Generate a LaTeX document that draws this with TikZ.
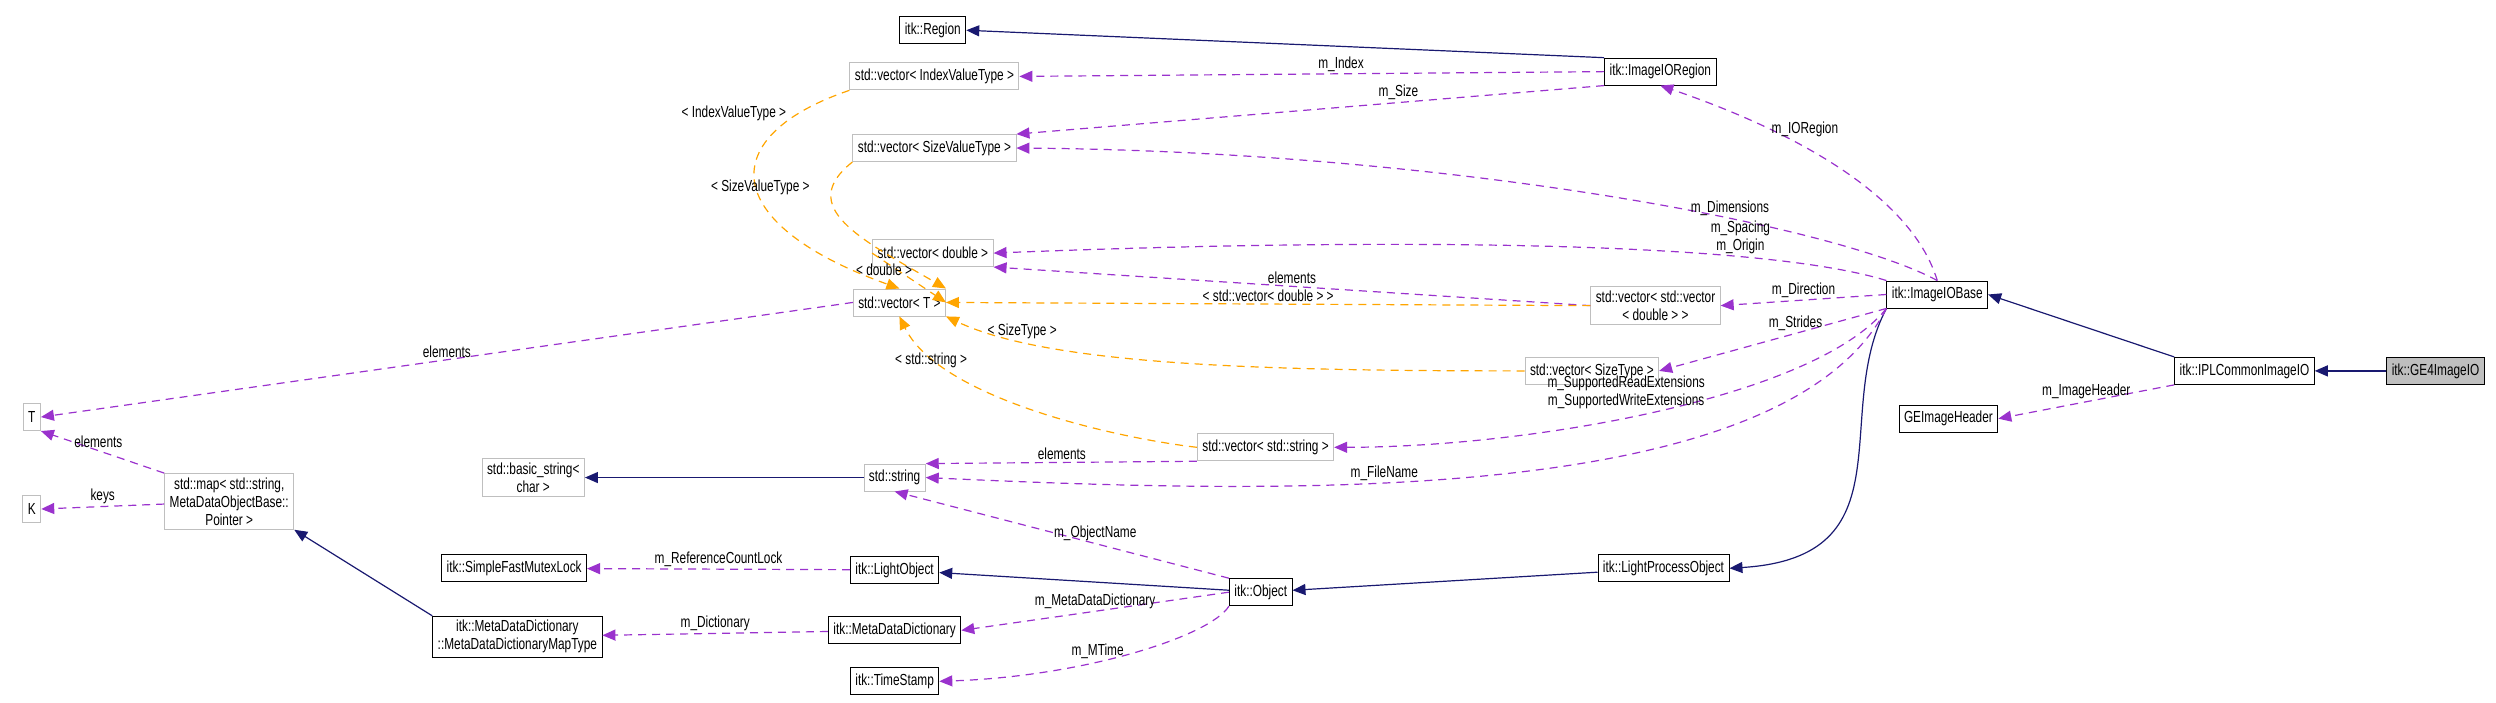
\documentclass[tikz,border=0pt]{standalone}
\usepackage{fontspec}
\setmainfont{Liberation Sans}[FakeStretch=0.74]
\usetikzlibrary{arrows.meta}
\definecolor{inhcol}{HTML}{191970}
\definecolor{usecol}{HTML}{9A32CD}
\definecolor{tplcol}{HTML}{FFA500}
\definecolor{extcol}{HTML}{BFBFBF}
\tikzset{
  box/.style={draw, line width=0.9pt, inner xsep=5pt, inner ysep=4pt, minimum height=27pt, align=center, font=\fontsize{16}{18}\selectfont, fill=white},
  cls/.style={box, draw=black},
  ext/.style={box, draw=extcol},
  lbl/.style={font=\fontsize{16}{18}\selectfont, inner sep=2pt, align=center},
  inh/.style={draw=inhcol, line width=1.2pt, -{Triangle[length=13pt,width=11pt]}},
  use/.style={draw=usecol, line width=1.2pt, dash pattern=on 8pt off 6pt, -{Triangle[length=13pt,width=11pt]}},
  tpl/.style={draw=tplcol, line width=1.2pt, dash pattern=on 8pt off 6pt, -{Triangle[length=13pt,width=11pt]}},
}
\begin{document}
\begin{tikzpicture}[x=1.592pt,y=-1.592pt]
\useasboundingbox (0,0) rectangle (1568,441.6);

% classes
\node[cls] (region) at (586,19) {itk::Region};
\node[cls] (ioregion) at (1043,45) {itk::ImageIORegion};
\node[ext] (vindex) at (587,48) {std::vector< IndexValueType >};
\node[ext] (vsize) at (587,93) {std::vector< SizeValueType >};
\node[ext] (vdouble) at (586,159) {std::vector< double >};
\node[ext] (vT) at (565,190) {std::vector< T >};
\node[ext] (vvec) at (1040,192) {std::vector< std::vector\\< double > >};
\node[ext] (vsizetype) at (1000,233) {std::vector< SizeType >};
\node[ext] (vstring) at (795,281) {std::vector< std::string >};
\node[cls] (iobase) at (1217,185) {itk::ImageIOBase};
\node[cls] (iplcommon) at (1410,233) {itk::IPLCommonImageIO};
\node[cls, fill=extcol] (ge4) at (1530,233) {itk::GE4ImageIO};
\node[cls] (geheader) at (1224,263) {GEImageHeader};
\node[ext] (T) at (20,262) {T};
\node[ext] (K) at (20,320) {K};
\node[ext] (stdmap) at (144,315) {std::map< std::string,\\MetaDataObjectBase::\\Pointer >};
\node[ext] (basicstr) at (335,300) {std::basic\_string<\\char >};
\node[ext] (stdstr) at (562,300) {std::string};
\node[cls] (mutex) at (323,357) {itk::SimpleFastMutexLock};
\node[cls] (lightobj) at (562,358) {itk::LightObject};
\node[cls] (maptype) at (325,400) {itk::MetaDataDictionary\\::MetaDataDictionaryMapType};
\node[cls] (mdd) at (562,396) {itk::MetaDataDictionary};
\node[cls] (timestamp) at (562,428) {itk::TimeStamp};
\node[cls] (object) at (792,372) {itk::Object};
\node[cls] (lpo) at (1045,357) {itk::LightProcessObject};

% inheritance
\draw[inh] (ioregion.north west) -- (region.east);
\draw[inh] (ge4) -- (iplcommon);
\draw[inh] (iplcommon.north west) -- (iobase.east);
\draw[inh] (iobase.south west) .. controls (1150,260) and (1200,350) .. (lpo.east);
\draw[inh] (lpo) -- (object);
\draw[inh] (object) -- (lightobj);
\draw[inh] (stdstr) -- (basicstr);
\draw[inh] (maptype.north west) -- (stdmap.south east);

% members
\draw[use] (ioregion.west) -- node[lbl, above, pos=0.45] {m\_Index} (vindex.east);
\draw[use] (ioregion.south west) -- node[lbl, above, pos=0.35] {m\_Size} (vsize.north east);
\draw[use] (iobase.north) .. controls (1200,120) and (1120,80) .. node[lbl, right, pos=0.7] {m\_IORegion} (ioregion.south);
\draw[use] (iobase.north) .. controls (1150,140) and (900,95) .. node[lbl, above, pos=0.35] {m\_Dimensions} (vsize.east);
\draw[use] (iobase.north west) .. controls (1100,150) and (850,150) .. node[lbl, above, pos=0.25] {m\_Spacing\\m\_Origin} (vdouble.east);
\draw[use] (iobase.west) -- node[lbl, above] {m\_Direction} (vvec.east);
\draw[use] (iobase.south west) -- node[lbl, above, pos=0.4] {m\_Strides} (vsizetype.east);
\draw[use] (iobase.south west) .. controls (1140,250) and (960,281) .. node[lbl, above, pos=0.5, xshift=-30pt] {m\_SupportedReadExtensions\\m\_SupportedWriteExtensions} (vstring.east);
\draw[use] (iobase.south west) .. controls (1120,320) and (800,310) .. node[lbl, above, pos=0.6] {m\_FileName} (stdstr.east);
\draw[use] (vvec.west) -- node[lbl, above] {elements} (vdouble.south east);
\draw[use] (vT.west) -- node[lbl, above] {elements} (T.east);
\draw[use] (stdmap.north west) -- node[lbl, right, pos=0.75] {elements} (T.south east);
\draw[use] (stdmap) -- node[lbl, above] {keys} (K);
\draw[use] (vstring.south west) -- node[lbl, above left, pos=0.4] {elements} (stdstr.north east);
\draw[use] (lightobj) -- node[lbl, above] {m\_ReferenceCountLock} (mutex);
\draw[use] (mdd) -- node[lbl, above] {m\_Dictionary} (maptype);
\draw[use] (object.north west) -- node[lbl, above, pos=0.4] {m\_ObjectName} (stdstr.south);
\draw[use] (object.west) -- node[lbl, above] {m\_MetaDataDictionary} (mdd.east);
\draw[use] (object.south west) .. controls (760,400) and (680,425) .. node[lbl, above, pos=0.6] {m\_MTime} (timestamp.east);
\draw[use] (iplcommon.south west) -- node[lbl, above] {m\_ImageHeader} (geheader.east);

% template instances
\draw[tpl] (vindex.south west) .. controls (450,85) and (450,140) .. node[lbl, left, pos=0.15, xshift=-10pt] {< IndexValueType >} (vT.north);
\draw[tpl] (vsize.south west) .. controls (500,130) and (540,150) .. node[lbl, left, pos=0.2, xshift=-20pt] {< SizeValueType >} (vT.north east);
\draw[tpl] (vdouble.west) -- node[lbl, above, xshift=-25pt] {< double >} (vT.east);
\draw[tpl] (vvec.west) -- node[lbl, above] {< std::vector< double > >} (vT.east);
\draw[tpl] (vsizetype.west) .. controls (800,233) and (660,230) .. node[lbl, above, pos=0.8] {< SizeType >} (vT.south east);
\draw[tpl] (vstring.west) .. controls (700,275) and (590,250) .. node[lbl, above, pos=0.75, xshift=-20pt] {< std::string >} (vT.south);
\end{tikzpicture}
\end{document}
